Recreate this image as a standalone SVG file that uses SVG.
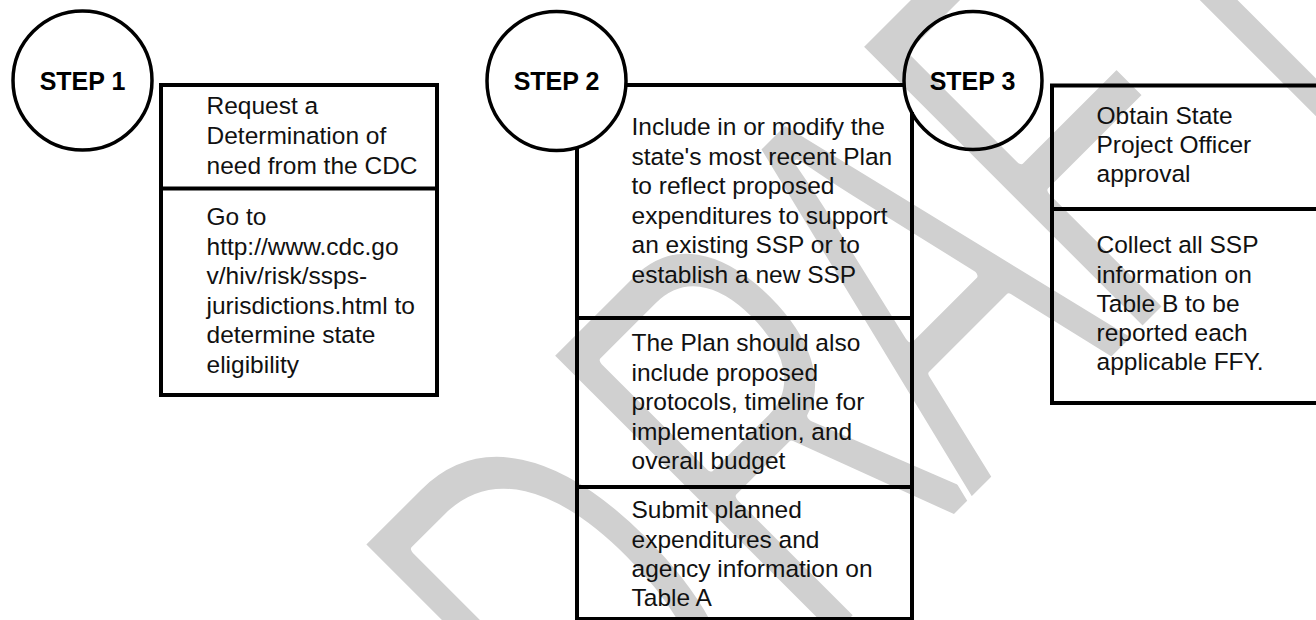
<svg xmlns="http://www.w3.org/2000/svg" width="1316" height="620" viewBox="0 0 1316 620">
<defs>
<style>
.wm{font-family:"Liberation Sans",Arial,sans-serif;font-size:587px;fill:#d0d0d0;stroke:#fff;stroke-width:10;stroke-linejoin:round}
.ln{fill:none;stroke:#000;stroke-width:4}
.cir{fill:none;stroke:#000;stroke-width:3.5}
.lbl{font-family:"Liberation Sans",Arial,sans-serif;font-weight:bold;font-size:25px;fill:#000;text-anchor:middle}
.tx{font-family:"Liberation Sans",Arial,sans-serif;font-size:24.5px;fill:#111}
</style>
</defs>
<rect width="1316" height="620" fill="#fff"/>
<g id="watermark" transform="translate(737.5,737.5) rotate(-45) scale(0.6,1)">
<text class="wm" x="-263 182 552 910 1257" y="0">DRAFT</text>
</g>
<g id="connectors">
<line class="ln" x1="626" y1="85" x2="904" y2="85"/>
</g>
<g id="step1">
<circle class="cir" cx="82.5" cy="80.5" r="69.5"/>
<text class="lbl" x="82.5" y="90">STEP 1</text>
<rect class="ln" x="161" y="85" width="276" height="310"/>
<line class="ln" x1="161" y1="188.5" x2="437" y2="188.5"/>
<text class="tx"><tspan x="206.5" y="114">Request a</tspan><tspan x="206.5" y="144">Determination of</tspan><tspan x="206.5" y="173.5">need from the CDC</tspan></text>
<text class="tx"><tspan x="206.5" y="225">Go to</tspan><tspan x="206.5" y="254.5">http://www.cdc.go</tspan><tspan x="206.5" y="284">v/hiv/risk/ssps-</tspan><tspan x="206.5" y="313.5">jurisdictions.html to</tspan><tspan x="206.5" y="343">determine state</tspan><tspan x="206.5" y="372.5">eligibility</tspan></text>
</g>
<g id="step2">
<circle class="cir" cx="556.5" cy="81" r="69.5"/>
<text class="lbl" x="556.5" y="90">STEP 2</text>
<path class="ln" d="M577 147 V619 H912 V112"/>
<line class="ln" x1="577" y1="318" x2="912" y2="318"/>
<line class="ln" x1="577" y1="487" x2="912" y2="487"/>
<text class="tx"><tspan x="631.5" y="135">Include in or modify the</tspan><tspan x="631.5" y="164.5">state's most recent Plan</tspan><tspan x="631.5" y="194">to reflect proposed</tspan><tspan x="631.5" y="223.5">expenditures to support</tspan><tspan x="631.5" y="253">an existing SSP or to</tspan><tspan x="631.5" y="282.5">establish a new SSP</tspan></text>
<text class="tx"><tspan x="631.5" y="351">The Plan should also</tspan><tspan x="631.5" y="380.5">include proposed</tspan><tspan x="631.5" y="410">protocols, timeline for</tspan><tspan x="631.5" y="439.5">implementation, and</tspan><tspan x="631.5" y="469">overall budget</tspan></text>
<text class="tx"><tspan x="631.5" y="518">Submit planned</tspan><tspan x="631.5" y="547.5">expenditures and</tspan><tspan x="631.5" y="577">agency information on</tspan><tspan x="631.5" y="606">Table A</tspan></text>
</g>
<g id="step3">
<circle class="cir" cx="973" cy="80.5" r="69"/>
<text class="lbl" x="972.5" y="90">STEP 3</text>
<rect class="ln" x="1052" y="85.5" width="290" height="317.5"/>
<line class="ln" x1="1052" y1="209" x2="1342" y2="209"/>
<text class="tx"><tspan x="1096.5" y="124">Obtain State</tspan><tspan x="1096.5" y="153">Project Officer</tspan><tspan x="1096.5" y="182">approval</tspan></text>
<text class="tx"><tspan x="1096.5" y="253">Collect all SSP</tspan><tspan x="1096.5" y="282.5">information on</tspan><tspan x="1096.5" y="311.5">Table B to be</tspan><tspan x="1096.5" y="341">reported each</tspan><tspan x="1096.5" y="370">applicable FFY.</tspan></text>
</g>
</svg>
